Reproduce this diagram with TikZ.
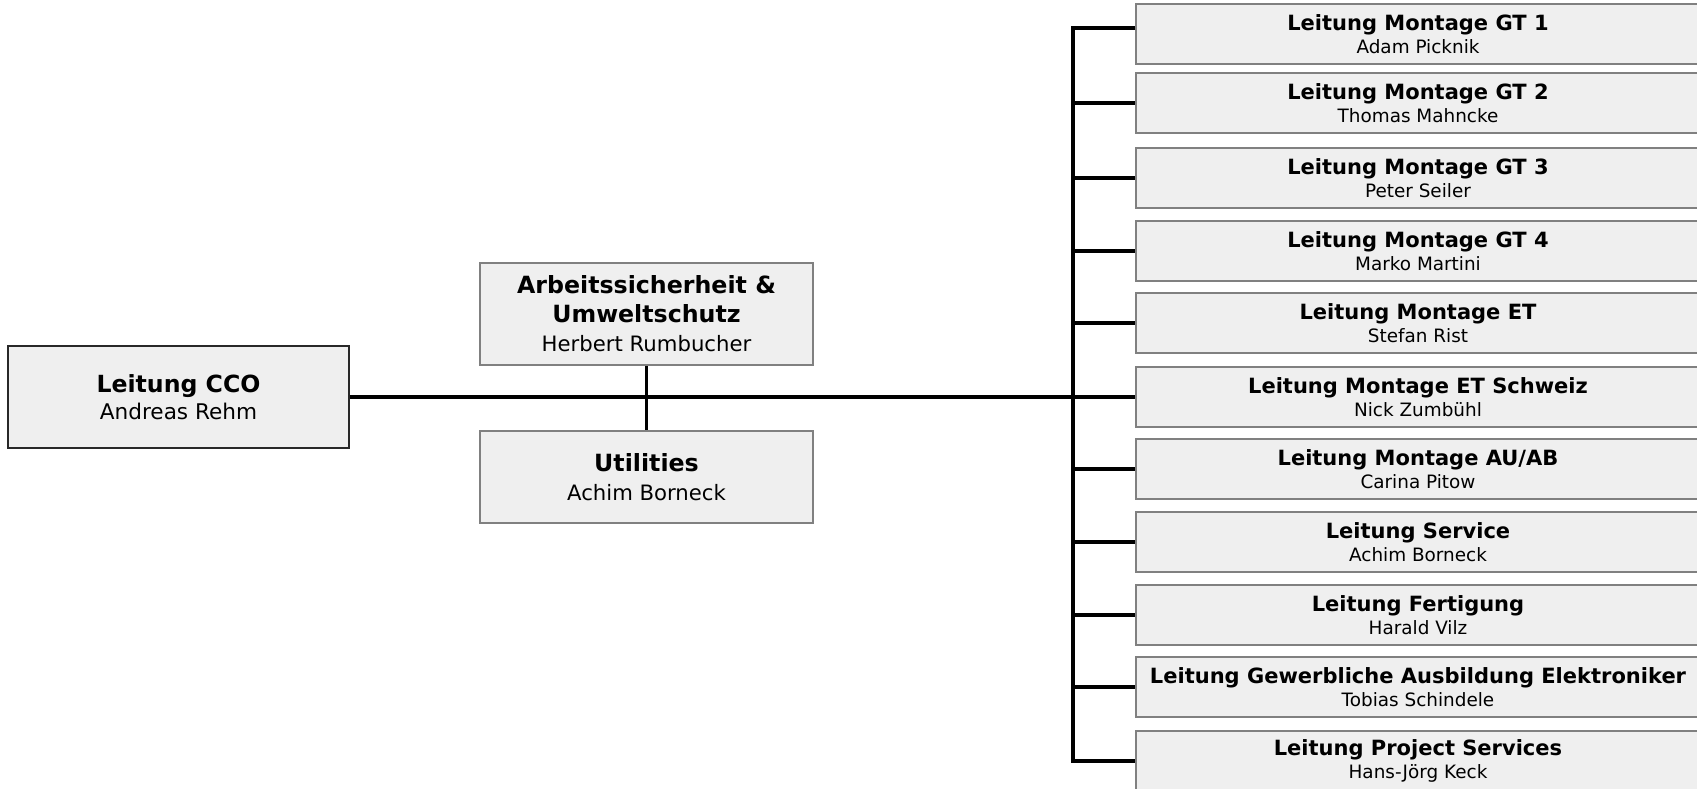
\documentclass[tikz,border=0pt]{standalone}
\usepackage{fontspec}
\setmainfont{DejaVu Sans}
\definecolor{boxfill}{RGB}{239,239,239}
\definecolor{boxline}{RGB}{128,128,128}
\tikzset{every picture/.style={line width=0.75pt}}
\tikzset{
  orgbox/.style={draw=boxline, fill=boxfill, line width=1.5pt, align=center, inner sep=0pt},
  headbox/.style={orgbox, draw={rgb,255:red,40;green,40;blue,40}, minimum width=341pt, minimum height=102pt, font=\fontsize{21.6}{27}\selectfont},
  staffbox/.style={orgbox, minimum width=333pt, font=\fontsize{21.2}{29}\selectfont},
  leadbox/.style={orgbox, minimum width=564pt, minimum height=60pt, font=\fontsize{18.4}{23}\selectfont},
  link/.style={line width=3.5pt, line join=miter}
}

\begin{document}
\begin{tikzpicture}[x=1pt,y=1pt,yscale=-1,xscale=1]
\useasboundingbox (0,0) rectangle (1697,789);

% Leitung
\node [headbox] (cco) at (178.5,397) {{\bfseries\fontsize{23.6}{27}\selectfont Leitung CCO}\\Andreas Rehm};

% Stab
\node [staffbox, minimum height=102pt] (asu) at (646.5,314) {{\bfseries\fontsize{23.7}{29}\selectfont Arbeitssicherheit \&}\\{\bfseries\fontsize{23.7}{29}\selectfont Umweltschutz}\\Herbert Rumbucher};
\node [staffbox, minimum height=92pt] (util) at (646.5,477) {{\bfseries\fontsize{23.7}{29}\selectfont Utilities}\\Achim Borneck};

% Bereiche
\node [leadbox] (gt1) at (1418,34) {{\bfseries\fontsize{21}{23}\selectfont Leitung Montage GT 1}\\Adam Picknik};
\node [leadbox] (gt2) at (1418,103) {{\bfseries\fontsize{21}{23}\selectfont Leitung Montage GT 2}\\Thomas Mahncke};
\node [leadbox] (gt3) at (1418,178) {{\bfseries\fontsize{21}{23}\selectfont Leitung Montage GT 3}\\Peter Seiler};
\node [leadbox] (gt4) at (1418,251) {{\bfseries\fontsize{21}{23}\selectfont Leitung Montage GT 4}\\Marko Martini};
\node [leadbox] (et) at (1418,323) {{\bfseries\fontsize{21}{23}\selectfont Leitung Montage ET}\\Stefan Rist};
\node [leadbox] (etch) at (1418,397) {{\bfseries\fontsize{21}{23}\selectfont Leitung Montage ET Schweiz}\\Nick Zumbühl};
\node [leadbox] (auab) at (1418,469) {{\bfseries\fontsize{21}{23}\selectfont Leitung Montage AU/AB}\\Carina Pitow};
\node [leadbox] (serv) at (1418,542) {{\bfseries\fontsize{21}{23}\selectfont Leitung Service}\\Achim Borneck};
\node [leadbox] (fert) at (1418,615) {{\bfseries\fontsize{21}{23}\selectfont Leitung Fertigung}\\Harald Vilz};
\node [leadbox] (ausb) at (1418,687) {{\bfseries\fontsize{21}{23}\selectfont Leitung Gewerbliche Ausbildung Elektroniker}\\Tobias Schindele};
\node [leadbox] (proj) at (1418,761) {{\bfseries\fontsize{21}{23}\selectfont Leitung Project Services}\\Hans-Jörg Keck};

% Verbindungen
\coordinate (bus) at (1073,397);
\draw [link] (cco.east) -- (etch.west);
\draw [link] (asu.south) -- (util.north);
\draw [link] ([yshift=-6pt]gt1.west) -| (bus) |- (proj.west);
\foreach \n in {gt2,gt3,gt4,et,auab,serv,fert,ausb}
  \draw [link] (bus |- \n.west) -- (\n.west);

\end{tikzpicture}
\end{document}
